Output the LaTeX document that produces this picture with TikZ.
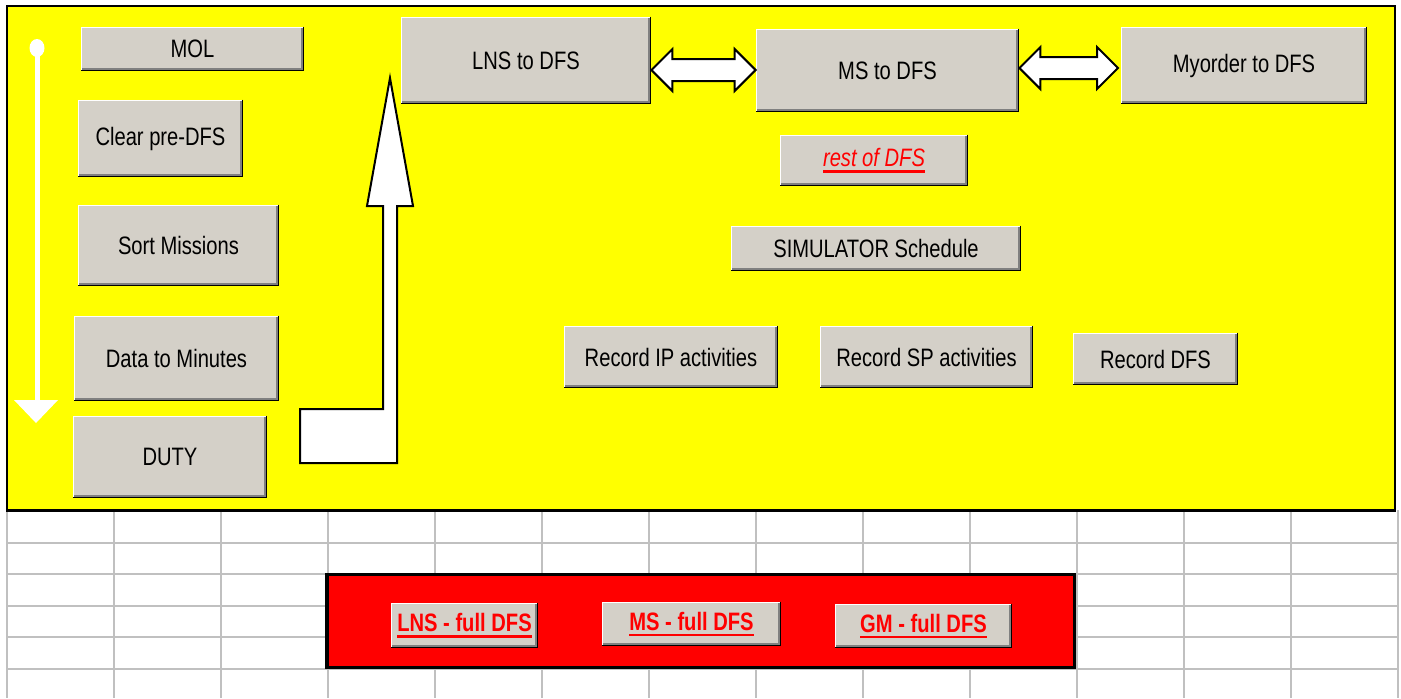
\documentclass[tikz,border=0pt]{standalone}
\usepackage{fontspec}
\setmainfont[FakeStretch=0.8]{Liberation Sans}
\usetikzlibrary{calc}

\definecolor{panelyellow}{RGB}{255,255,0}
\definecolor{panelred}{RGB}{255,0,0}
\definecolor{btngray}{RGB}{212,208,200}
\definecolor{gridgray}{RGB}{192,192,192}
\definecolor{shadowgray}{RGB}{128,128,128}

% underlined link text
\newcommand\ulink[1]{\leavevmode\vtop{\hbox{#1}\kern1.6pt\hrule height1.3pt}}

% raised button: name, x1, y1, x2, y2, text
\newcommand\btn[6]{%
  \node [button, minimum width={(#4-#2)*0.5pt}, minimum height={(#5-#3)*0.5pt}] (#1) at ({(#2+#4)/2},{(#3+#5)/2}) {#6};
  \draw [white, line width=0.5pt] ([shift={(0.5,0)}]#1.south west) -- ([shift={(0.5,0.5)}]#1.north west) -- ([shift={(0,0.5)}]#1.north east);
  \draw [shadowgray, line width=0.75pt] ([shift={(-2.25,1)}]#1.north east) -- ([shift={(-2.25,-2.25)}]#1.south east) -- ([shift={(1,-2.25)}]#1.south west);
  \draw [black, line width=0.75pt] ([shift={(-0.75,0)}]#1.north east) -- ([shift={(-0.75,-0.75)}]#1.south east) -- ([shift={(0,-0.75)}]#1.south west);
}

% white double block arrow between two points
\newcommand\dblarrow[2]{%
  \draw [blockarrow] (#1) -- ++(21,-21) -- ++(0,10) -- ($(#2)+(-21,-11)$) -- ++(0,-10) -- (#2) -- ++(-21,21) -- ++(0,-10) -- ($(#1)+(21,11)$) -- ++(0,10) -- cycle;
}

\begin{document}
\begin{tikzpicture}[x=0.5pt, y=-0.5pt,
    button/.style={fill=btngray, inner sep=0pt, font=\fontsize{12.6pt}{14pt}\selectfont},
    blockarrow/.style={fill=white, draw=black, line width=1pt, line join=miter}]

        \useasboundingbox (0,0) rectangle (1401,698);
        \fill [white] (0,0) rectangle (1401,698);

        %% sheet grid
        \foreach \gx in {0,...,13}
            \draw [gridgray, line width=0.8pt] (7+107*\gx,510) -- (7+107*\gx,698);
        \foreach \gy in {543,574,606,637,669}
            \draw [gridgray, line width=0.8pt] (7,\gy) -- (1398,\gy);

        %% yellow panel
        \draw [fill=panelyellow, line width=1.3pt] (7,6) rectangle (1395,510.5);

        %% red panel
        \draw [fill=panelred, line width=1.7pt] (327,574.3) rectangle (1074.7,667.5);

        %% order arrow on the left
        \coordinate (topdot) at (37,48);
        \coordinate (downtip) at (36,423);
        \draw [white, line width=2.5pt] (topdot) -- (37,401);
        \fill [white] (topdot) ellipse [x radius=7.5, y radius=9];
        \fill [white] (14,400) -- (58,400) -- (downtip) -- cycle;

        %% bent arrow up to the DFS row
        \draw [blockarrow] (300,409) -- (383,409) -- (383,206) -- (367,206) -- (390,78) -- (413,206) -- (397,206) -- (397,463) -- (300,463) -- cycle;

        %% buttons, first column
        \btn{mol}{81}{27}{304}{71}{MOL}
        \btn{clear}{78}{100}{243}{177}{Clear pre-DFS}
        \btn{sort}{78}{205}{279}{286}{Sort Missions}
        \btn{minutes}{74}{316}{279}{401}{Data to Minutes}
        \btn{duty}{73}{416}{267}{498}{DUTY}

        %% DFS row
        \btn{lns}{401}{17}{651}{104}{LNS to DFS}
        \btn{ms}{756}{29}{1019}{112}{MS to DFS}
        \btn{myorder}{1121}{27}{1367}{104}{Myorder to DFS}
        \dblarrow{lns.east |- 0,70}{ms.west |- 0,70}
        \dblarrow{ms.east |- 0,68}{1118,68}

        \btn{rest}{780}{135}{968}{186}{\color{panelred}\ulink{\itshape rest of DFS}}
        \btn{sim}{731}{226}{1021}{271}{SIMULATOR Schedule}

        %% records
        \btn{recip}{564}{326}{778}{388}{Record IP activities}
        \btn{recsp}{820}{326}{1033}{388}{Record SP activities}
        \btn{recdfs}{1073}{333}{1238}{385}{Record DFS}

        %% full DFS links
        \btn{lnsfull}{391}{603}{538}{648}{\bfseries\color{panelred}\ulink{LNS - full DFS}}
        \btn{msfull}{602}{602}{781}{646}{\bfseries\color{panelred}\ulink{MS - full DFS}}
        \btn{gmfull}{835}{604}{1012}{648}{\bfseries\color{panelred}\ulink{GM - full DFS}}

    \end{tikzpicture}
\end{document}
